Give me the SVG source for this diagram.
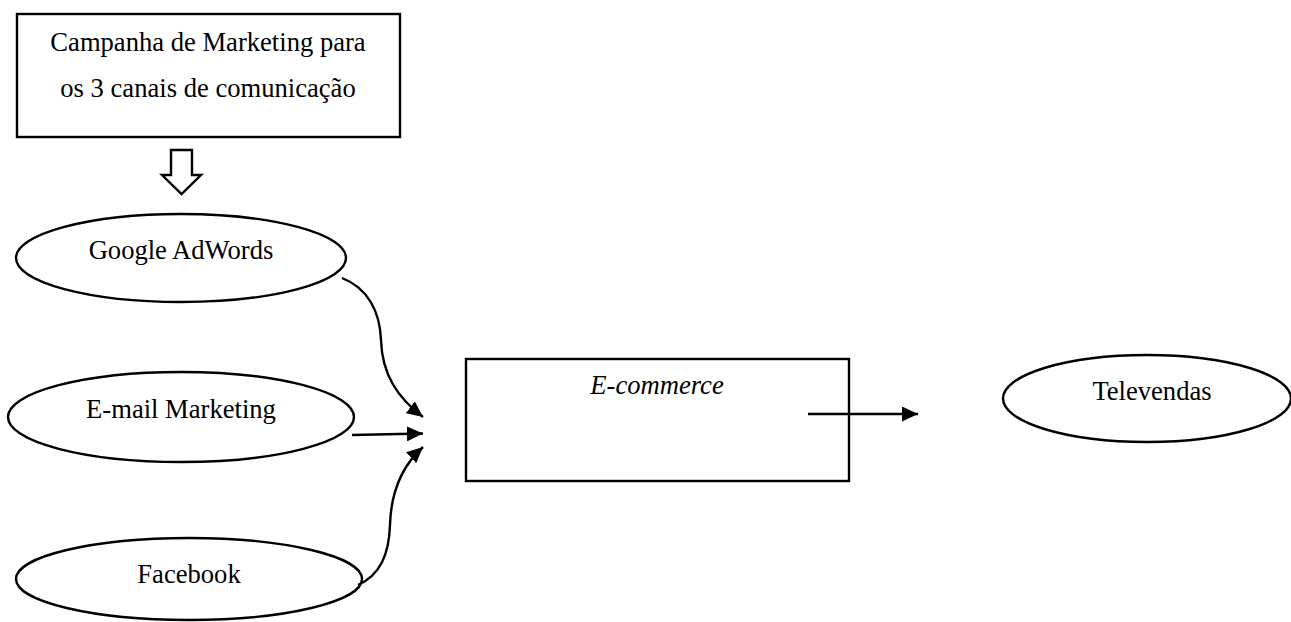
<svg xmlns="http://www.w3.org/2000/svg" width="1291" height="622" viewBox="0 0 1291 622">
<style>
.box{fill:#fff;stroke:#000;stroke-width:2.4}
.t{font-family:"Liberation Serif","Times New Roman",serif;font-size:26.6px;fill:#000;text-anchor:middle}
.c{fill:none;stroke:#000;stroke-width:2.4}
</style>
<defs>
<marker id="ah" markerWidth="16" markerHeight="15" refX="16" refY="7.5" orient="auto" markerUnits="userSpaceOnUse">
<path d="M0,0 L16,7.5 L0,15 Z" fill="#000"/>
</marker>
</defs>
<rect width="1291" height="622" fill="#fff"/>
<g id="campanha">
<rect class="box" x="17" y="14" width="383" height="123"/>
<text class="t" x="208" y="51">Campanha de Marketing para</text>
<text class="t" x="208" y="97">os 3 canais de comunicação</text>
</g>
<g id="seta-oca">
<polygon class="box" points="171,150 192,150 192,175 201,175 181.5,194 162,175 171,175"/>
</g>
<g id="google">
<ellipse class="box" cx="181" cy="258" rx="165" ry="44"/>
<text class="t" x="181" y="259">Google AdWords</text>
</g>
<g id="email">
<ellipse class="box" cx="181" cy="417" rx="173" ry="45"/>
<text class="t" x="181" y="418">E-mail Marketing</text>
</g>
<g id="facebook">
<ellipse class="box" cx="189" cy="579" rx="173" ry="41"/>
<text class="t" x="189" y="583">Facebook</text>
</g>
<g id="ecommerce">
<rect class="box" x="466" y="359" width="383" height="122"/>
<text class="t" x="657" y="394" font-style="italic">E-commerce</text>
</g>
<g id="televendas">
<ellipse class="box" cx="1147" cy="398.5" rx="144" ry="43.5"/>
<text class="t" x="1152" y="400">Televendas</text>
</g>
<g id="connectors">
<path class="c" d="M342,278 C368,288 380,312 381,340 C382,375 398,398 423,417" marker-end="url(#ah)"/>
<path class="c" d="M352,435 L423,433.5" marker-end="url(#ah)"/>
<path class="c" d="M358,585 C380,575 389,555 390,525 C391,490 403,465 423,447" marker-end="url(#ah)"/>
<path class="c" d="M808,414 L918,414" marker-end="url(#ah)"/>
</g>
</svg>
